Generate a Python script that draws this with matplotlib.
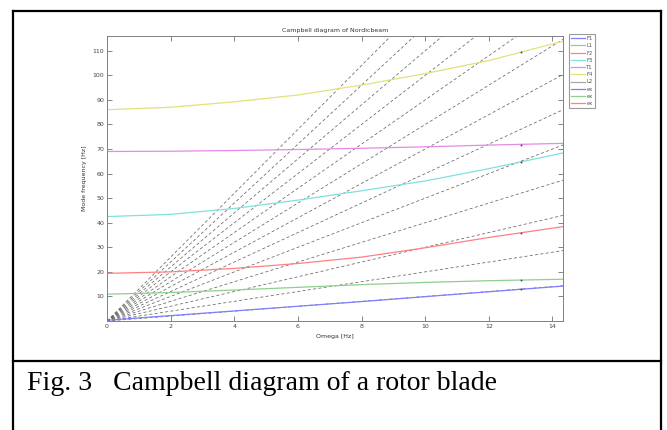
import numpy as np
import matplotlib.pyplot as plt
from matplotlib.lines import Line2D

# Rotor speed grid and mode frequencies [Hz]
omega = [0, 2, 4, 6, 8, 10, 12, 14.33]
f1 = [0.3, 2.2, 4.1, 6.0, 7.9, 9.9, 11.9, 14.2]
l1 = [10.9, 11.6, 12.6, 13.7, 14.8, 15.7, 16.4, 17.0]
f2 = [19.4, 20.0, 21.4, 23.4, 26.0, 29.8, 34.0, 38.4]
f3 = [42.5, 43.4, 45.8, 49.2, 53.0, 57.0, 62.0, 68.4]
t1 = [69.0, 69.1, 69.4, 69.8, 70.3, 70.9, 71.6, 72.3]
f4 = [86.0, 87.0, 89.2, 92.0, 96.0, 100.7, 106.0, 113.9]

# measured points at 13 Hz
ex_omega = [13, 13]
ex_a = [13.0, 64.7]
ex_b = [16.7, 71.8]
ex_c = [36.0, 109.4]

# engine orders for the dashed lines
orders = list(range(1, 14))
omega_lim = [0, 14.33]

mode_names = ['F1', 'L1', 'F2', 'F3', 'T1', 'F4', 'L2', 'ex', 'ex', 'ex']
mode_colors = ['#7f7fff', '#8fcf8f', '#ff8080', '#7fe0e0', '#e58ae5',
               '#e2e27a', '#a8a8a8', '#7f7fff', '#8fcf8f', '#ff8080']

W, H = 667, 430
fig = plt.figure(figsize=(W / 100, H / 100), dpi=100)
fig.patch.set_facecolor('white')

ax = fig.add_axes([107 / W, 1 - 321 / H, (563 - 107) / W, (321 - 36) / H])

for k in orders:
    ax.plot(omega_lim, [k * omega_lim[0], k * omega_lim[1]], color='#666666',
            lw=0.55, ls=(0, (4, 3)))

for ys, c in zip([f1, l1, f2, f3, t1, f4], mode_colors):
    ax.plot(omega, ys, color=c, lw=0.9)

for ys in [ex_a, ex_b, ex_c]:
    ax.plot(ex_omega, ys, ls='none', marker='s', ms=1.2, color='#404040', mew=0)

ax.set_xlim(0, 14.33)
ax.set_ylim(0, 116)
ax.set_xticks(range(0, 15, 2))
ax.set_yticks(range(10, 111, 10))
ax.tick_params(direction='in', length=3.5, width=0.5, colors='#555555',
               labelsize=4.5, top=True, right=True, pad=2)
for lab in ax.get_xticklabels() + ax.get_yticklabels():
    lab.set_color('#444444')
for s in ax.spines.values():
    s.set_color('#808080')
    s.set_linewidth(0.7)

ax.set_title('Campbell diagram of Nordicbeam', fontsize=4.5, color='#333333', pad=3)
ax.set_xlabel('Omega [Hz]', fontsize=4.5, color='#333333', labelpad=4)
ax.set_ylabel('Mode frequency [Hz]', fontsize=4.5, color='#333333', labelpad=4)

handles = [Line2D([], [], color=c, lw=0.9) for c in mode_colors]
leg = fig.legend(handles, mode_names, loc='upper left',
                 bbox_to_anchor=(569 / W, 1 - 34 / H), fontsize=3.8,
                 handlelength=2.6, handletextpad=0.3, labelspacing=0.42,
                 borderpad=0.4, borderaxespad=0, fancybox=False, framealpha=1)
leg.get_frame().set_edgecolor('#9a9a9a')
leg.get_frame().set_linewidth(0.8)
for t in leg.get_texts():
    t.set_color('#555555')

# surrounding frame and caption
def fline(x0, y0, x1, y1):
    fig.add_artist(Line2D([x0 / W, x1 / W], [1 - y0 / H, 1 - y1 / H],
                          color='black', lw=1.6, solid_capstyle='projecting'))

fline(12.5, 11, 661, 11)
fline(12.5, 11, 12.5, 430)
fline(661, 11, 661, 430)
fline(12.5, 360.5, 661, 360.5)

fig.text(27 / W, 1 - 390 / H, 'Fig. 3   Campbell diagram of a rotor blade',
         family='Liberation Serif', fontsize=20, va='baseline', ha='left')

fig.savefig('out.png', dpi=100)
